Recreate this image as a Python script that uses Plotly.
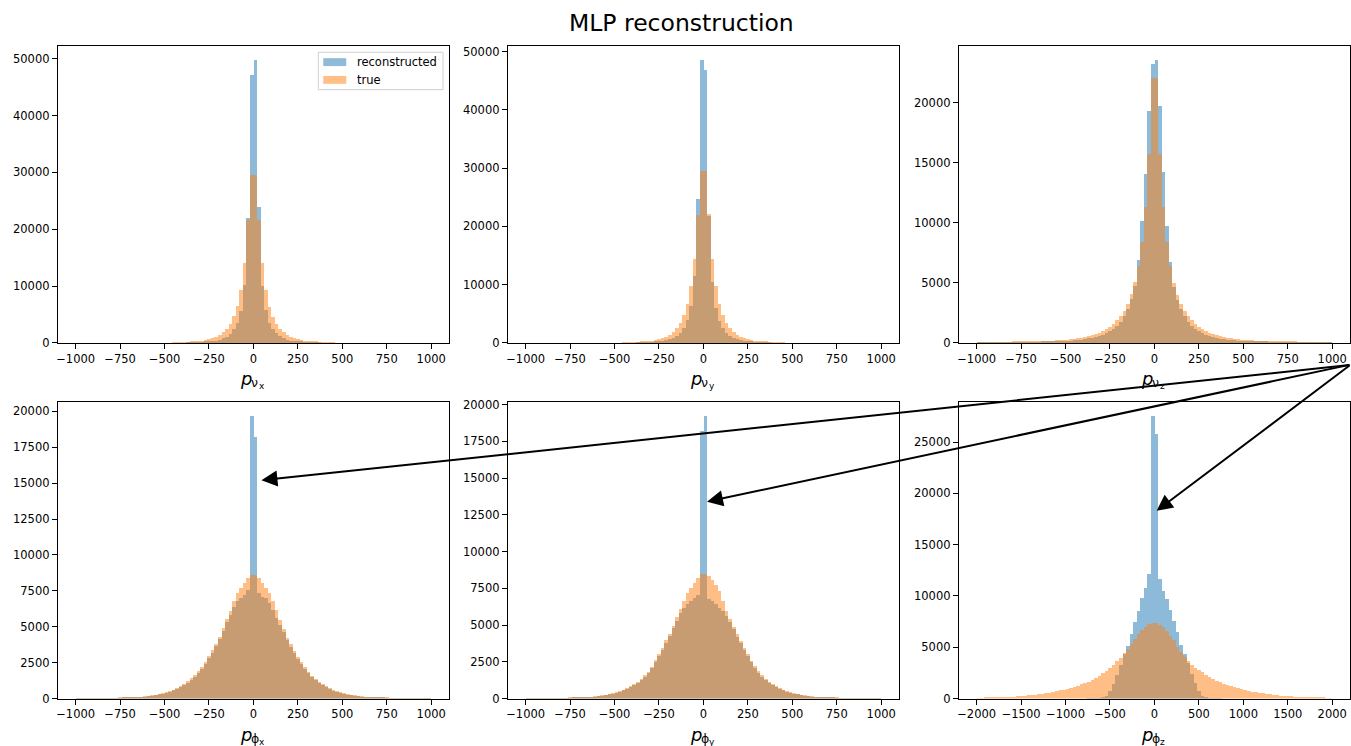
import numpy as np
import plotly.graph_objects as go

W, H = 1351, 746

# ---------------- bins ----------------
bin_w_small = 20     # 100 bins on [-1000, 1000]
bin_w_large = 40     # 100 bins on [-2000, 2000]
centers_small = np.arange(-990, 1000, bin_w_small)
centers_large = np.arange(-1980, 2000, bin_w_large)

# ---------------- data (counts), "neg" lists go outward from 0 to the left ----------------
# p_nu_x
reco_nux_neg = [47100, 21900, 10200, 5500, 3400, 2300, 1550, 1050, 720, 500,
                350, 240, 170, 120, 85, 60, 42, 30, 21, 0,
                0, 0, 0, 0, 0, 0, 0, 0, 0, 0,
                0, 0, 0, 0, 0, 0, 0, 0, 0, 0,
                0, 0, 0, 0, 0, 0, 0, 0, 0, 0]
reco_nux_pos = [49700, 23800, 10000, 5700, 3500, 2300, 1600, 1100, 750, 520,
                360, 250, 175, 120, 85, 60, 42, 30, 21, 0,
                0, 0, 0, 0, 0, 0, 0, 0, 0, 0,
                0, 0, 0, 0, 0, 0, 0, 0, 0, 0,
                0, 0, 0, 0, 0, 0, 0, 0, 0, 0]
true_nux_neg = [29500, 21500, 14000, 9300, 6400, 4600, 3300, 2400, 1800, 1350,
                1000, 750, 560, 420, 310, 230, 170, 125, 90, 65,
                48, 35, 26, 0, 0, 0, 0, 0, 0, 0,
                0, 0, 0, 0, 0, 0, 0, 0, 0, 0,
                0, 0, 0, 0, 0, 0, 0, 0, 0, 0]
true_nux_pos = [29500, 21500, 14000, 9300, 6300, 4500, 3250, 2380, 1780, 1330,
                990, 740, 550, 410, 305, 225, 165, 122, 88, 64,
                47, 34, 25, 0, 0, 0, 0, 0, 0, 0,
                0, 0, 0, 0, 0, 0, 0, 0, 0, 0,
                0, 0, 0, 0, 0, 0, 0, 0, 0, 0]

# p_nu_y
reco_nuy_neg = [48500, 24600, 11500, 6300, 3800, 2500, 1700, 1150, 800, 550,
                380, 260, 180, 125, 88, 62, 44, 31, 22, 0,
                0, 0, 0, 0, 0, 0, 0, 0, 0, 0,
                0, 0, 0, 0, 0, 0, 0, 0, 0, 0,
                0, 0, 0, 0, 0, 0, 0, 0, 0, 0]
reco_nuy_pos = [46800, 21800, 10400, 6000, 3700, 2450, 1680, 1140, 790, 545,
                375, 258, 178, 124, 87, 61, 43, 30, 21, 0,
                0, 0, 0, 0, 0, 0, 0, 0, 0, 0,
                0, 0, 0, 0, 0, 0, 0, 0, 0, 0,
                0, 0, 0, 0, 0, 0, 0, 0, 0, 0]
true_nuy_neg = [29400, 21900, 14400, 9700, 6650, 4750, 3420, 2480, 1830, 1370,
                1010, 760, 565, 425, 315, 232, 172, 126, 92, 67,
                49, 36, 26, 0, 0, 0, 0, 0, 0, 0,
                0, 0, 0, 0, 0, 0, 0, 0, 0, 0,
                0, 0, 0, 0, 0, 0, 0, 0, 0, 0]
true_nuy_pos = [29400, 22000, 14400, 9700, 6600, 4700, 3400, 2500, 1850, 1380,
                1020, 770, 570, 430, 320, 235, 175, 128, 93, 68,
                50, 36, 27, 0, 0, 0, 0, 0, 0, 0,
                0, 0, 0, 0, 0, 0, 0, 0, 0, 0,
                0, 0, 0, 0, 0, 0, 0, 0, 0, 0]

# p_nu_z
reco_nuz_neg = [23150, 19300, 14050, 10150, 6850, 4700, 3600, 2800, 2200, 1750,
                1400, 1150, 950, 790, 660, 560, 470, 400, 340, 290,
                250, 215, 185, 160, 140, 120, 104, 90, 78, 68,
                59, 51, 44, 38, 33, 29, 25, 22, 19, 16,
                14, 12, 10, 9, 8, 7, 6, 5, 4, 4]
reco_nuz_pos = [23500, 19700, 14200, 9700, 6700, 4650, 3550, 2780, 2180, 1740,
                1390, 1140, 940, 785, 655, 555, 468, 398, 338, 288,
                248, 213, 184, 159, 138, 119, 103, 89, 77, 67,
                58, 50, 43, 37, 32, 28, 24, 21, 18, 16,
                14, 12, 10, 9, 8, 7, 6, 5, 4, 3]
true_nuz_neg = [22050, 15700, 11300, 8400, 6400, 5000, 4000, 3250, 2650, 2200,
                1850, 1550, 1300, 1100, 950, 820, 710, 620, 540, 470,
                410, 360, 320, 285, 255, 228, 204, 183, 164, 147,
                132, 118, 106, 95, 85, 76, 68, 61, 55, 49,
                44, 40, 36, 32, 29, 26, 23, 21, 19, 17]
true_nuz_pos = [22050, 15700, 11300, 8400, 6350, 4950, 3980, 3230, 2640, 2190,
                1840, 1540, 1290, 1095, 945, 815, 705, 615, 535, 468,
                408, 358, 318, 283, 253, 226, 202, 181, 162, 146,
                131, 117, 105, 94, 84, 75, 67, 60, 54, 48,
                43, 39, 35, 31, 28, 25, 22, 20, 18, 16]

# p_phi_x
reco_phx_neg = [19660, 7560, 7200, 7000, 6760, 6400, 5800, 5300, 4700, 4150,
                3650, 3200, 2800, 2400, 2080, 1780, 1520, 1300, 1100, 930,
                790, 670, 565, 480, 405, 340, 285, 240, 200, 168,
                140, 117, 98, 82, 68, 57, 47, 39, 32, 26,
                21, 17, 14, 11, 9, 7, 5, 4, 3, 2]
reco_phx_pos = [18210, 7330, 7100, 6990, 6640, 6190, 5600, 5150, 4600, 4100,
                3600, 3150, 2750, 2380, 2050, 1760, 1500, 1280, 1090, 920,
                785, 665, 560, 476, 402, 338, 283, 238, 199, 167,
                139, 116, 97, 81, 67, 56, 46, 38, 31, 25,
                20, 16, 13, 11, 9, 7, 5, 4, 3, 2]
true_phx_neg = [8590, 8380, 8030, 7680, 7330, 6800, 6100, 5550, 4900, 4300,
                3800, 3350, 2950, 2550, 2200, 1900, 1620, 1400, 1200, 1000,
                850, 720, 610, 520, 440, 370, 310, 260, 220, 185,
                155, 130, 110, 92, 78, 65, 55, 46, 38, 32,
                26, 21, 17, 14, 11, 9, 7, 5, 4, 3]
true_phx_pos = [8590, 8360, 8020, 7670, 7330, 6760, 6150, 5500, 4850, 4250,
                3780, 3320, 2910, 2520, 2180, 1880, 1600, 1380, 1180, 990,
                845, 715, 605, 515, 436, 367, 308, 258, 218, 183,
                153, 129, 108, 91, 77, 64, 54, 45, 37, 31,
                25, 20, 16, 13, 11, 9, 7, 5, 4, 3]

# p_phi_y
reco_phy_neg = [18190, 7080, 6860, 6640, 6410, 6190, 5800, 5300, 4800, 4250,
                3800, 3320, 2900, 2500, 2100, 1770, 1500, 1280, 1090, 920,
                780, 660, 555, 470, 395, 335, 280, 236, 198, 166,
                139, 116, 97, 81, 67, 56, 46, 38, 31, 26,
                21, 17, 14, 11, 9, 7, 5, 4, 3, 2]
reco_phy_pos = [19220, 6750, 6640, 6460, 6190, 5970, 5630, 5180, 4700, 4200,
                3750, 3300, 2880, 2480, 2100, 1770, 1500, 1280, 1090, 920,
                780, 660, 555, 470, 395, 335, 280, 236, 198, 166,
                139, 116, 97, 81, 67, 56, 46, 38, 31, 26,
                21, 17, 14, 11, 9, 7, 5, 4, 3, 2]
true_phy_neg = [8470, 8200, 7870, 7530, 7200, 6640, 6080, 5520, 4960, 4400,
                3960, 3460, 3020, 2610, 2170, 1830, 1580, 1350, 1150, 980,
                830, 700, 590, 500, 425, 360, 305, 258, 218, 184,
                155, 130, 110, 92, 77, 64, 54, 45, 38, 31,
                26, 21, 17, 14, 11, 9, 7, 5, 4, 3]
true_phy_pos = [8470, 8310, 8090, 7750, 7300, 6640, 5970, 5400, 4900, 4380,
                3940, 3450, 3000, 2590, 2200, 1860, 1590, 1360, 1160, 985,
                835, 705, 595, 505, 428, 362, 307, 260, 220, 186,
                156, 131, 111, 93, 78, 65, 55, 46, 38, 32,
                26, 21, 17, 14, 11, 9, 7, 5, 4, 3]

# p_phi_z (bins of 40)
reco_phz_neg = [27520, 12130, 10780, 9760, 8540, 7490, 6300, 5100, 4300, 3300,
                2300, 1400, 700, 250, 80, 25, 8, 3, 1, 0,
                0, 0, 0, 0, 0, 0, 0, 0, 0, 0,
                0, 0, 0, 0, 0, 0, 0, 0, 0, 0,
                0, 0, 0, 0, 0, 0, 0, 0, 0, 0]
reco_phz_pos = [25760, 11680, 10460, 9700, 8600, 7580, 6460, 5180, 4300, 3500,
                2400, 1500, 700, 280, 90, 30, 10, 3, 1, 0,
                0, 0, 0, 0, 0, 0, 0, 0, 0, 0,
                0, 0, 0, 0, 0, 0, 0, 0, 0, 0,
                0, 0, 0, 0, 0, 0, 0, 0, 0, 0]
true_phz_neg = [7330, 7250, 7000, 6700, 6300, 5850, 5350, 4850, 4400, 4000,
                3650, 3300, 3000, 2700, 2450, 2200, 2000, 1800, 1650, 1500,
                1380, 1260, 1150, 1050, 960, 870, 790, 710, 640, 580,
                520, 470, 420, 380, 340, 300, 270, 240, 210, 185,
                165, 145, 125, 110, 95, 80, 70, 60, 50, 40]
true_phz_pos = [7330, 7200, 6940, 6620, 6140, 5660, 5020, 4500, 4050, 3680,
                3300, 3000, 2780, 2550, 2320, 2100, 1900, 1720, 1570, 1430,
                1300, 1190, 1090, 1000, 910, 830, 755, 685, 620, 560,
                505, 455, 410, 370, 330, 295, 265, 235, 210, 185,
                165, 145, 128, 112, 97, 84, 72, 62, 53, 45]

# ---------------- labels / ticks ----------------
series_names = ["reconstructed", "true"]
# axis labels p_{particle_{component}}
label_main = ["p", "p", "p", "p", "p", "p"]
label_sub = ["ν", "ν", "ν", "ϕ", "ϕ", "ϕ"]
label_subsub = ["x", "y", "z", "x", "y", "z"]
xtick_small = [-1000, -750, -500, -250, 0, 250, 500, 750, 1000]
xtick_small_text = ["−1000", "−750", "−500", "−250", "0", "250", "500", "750", "1000"]
xtick_large = [-2000, -1500, -1000, -500, 0, 500, 1000, 1500, 2000]
xtick_large_text = ["−2000", "−1500", "−1000", "−500", "0", "500", "1000", "1500", "2000"]
ytick_sets = [
    [0, 10000, 20000, 30000, 40000, 50000],
    [0, 10000, 20000, 30000, 40000, 50000],
    [0, 5000, 10000, 15000, 20000],
    [0, 2500, 5000, 7500, 10000, 12500, 15000, 17500, 20000],
    [0, 2500, 5000, 7500, 10000, 12500, 15000, 17500, 20000],
    [0, 5000, 10000, 15000, 20000, 25000],
]

BLUE = "#1f77b4"
ORANGE = "#ff7f0e"
FONT = "DejaVu Sans"

panels = [
    (centers_small, bin_w_small, reco_nux_neg, reco_nux_pos, true_nux_neg, true_nux_pos, 1000),
    (centers_small, bin_w_small, reco_nuy_neg, reco_nuy_pos, true_nuy_neg, true_nuy_pos, 1000),
    (centers_small, bin_w_small, reco_nuz_neg, reco_nuz_pos, true_nuz_neg, true_nuz_pos, 1000),
    (centers_small, bin_w_small, reco_phx_neg, reco_phx_pos, true_phx_neg, true_phx_pos, 1000),
    (centers_small, bin_w_small, reco_phy_neg, reco_phy_pos, true_phy_neg, true_phy_pos, 1000),
    (centers_large, bin_w_large, reco_phz_neg, reco_phz_pos, true_phz_neg, true_phz_pos, 2000),
]

# panel frames in pixels
col_px = [(56, 448), (507, 899), (959, 1351)]
row_px = [(43, 344), (404, 705)]


def fx(px):
    return px / W


def fy(py):
    return 1 - py / H


fig = go.Figure()
layout = dict(
    width=W, height=H, margin=dict(l=0, r=0, t=0, b=0),
    paper_bgcolor="white", plot_bgcolor="white",
    barmode="overlay", bargap=0, showlegend=False,
    font=dict(family=FONT, color="black", size=12),
)

annotations = []
for i, (centers, bw, rn, rp, tn, tp, lim) in enumerate(panels):
    k = i + 1
    sfx = "" if k == 1 else str(k)
    reco = rn[::-1] + rp
    true = tn[::-1] + tp
    fig.add_trace(go.Bar(x=centers, y=reco, width=bw, name=series_names[0],
                         marker=dict(color=BLUE, line=dict(width=0)), opacity=0.5,
                         xaxis="x" + sfx, yaxis="y" + sfx, hoverinfo="skip"))
    fig.add_trace(go.Bar(x=centers, y=true, width=bw, name=series_names[1],
                         marker=dict(color=ORANGE, line=dict(width=0)), opacity=0.5,
                         xaxis="x" + sfx, yaxis="y" + sfx, hoverinfo="skip"))
    c0, c1 = col_px[i % 3]
    r0, r1 = row_px[i // 3]
    ymax = 1.05 * max(max(reco), max(true))
    tv = xtick_small if lim == 1000 else xtick_large
    tt = xtick_small_text if lim == 1000 else xtick_large_text
    layout["xaxis" + sfx] = dict(
        domain=[fx(c0), fx(c1)], anchor="y" + sfx, range=[-1.1 * lim, 1.1 * lim],
        tickmode="array", tickvals=tv, ticktext=tt, ticks="outside", ticklen=5,
        tickwidth=1, tickcolor="black", showline=True, mirror=True, linecolor="black",
        linewidth=1, showgrid=False, zeroline=False,
        tickfont=dict(size=11.5, color="black", family=FONT),
    )
    layout["yaxis" + sfx] = dict(
        domain=[fy(r1), fy(r0)], anchor="x" + sfx, range=[0, ymax],
        tickmode="array", tickvals=ytick_sets[i], ticktext=[str(v) for v in ytick_sets[i]],
        ticks="outside", ticklen=5, tickwidth=1, tickcolor="black",
        showline=True, mirror=True, linecolor="black", linewidth=1,
        showgrid=False, zeroline=False,
        tickfont=dict(size=11.5, color="black", family=FONT),
    )
    # axis label  p_{nu_x} built from three text pieces (mathtext-like)
    cx = (c0 + c1) / 2
    annotations.append(dict(text="<i>%s</i>" % label_main[i], x=fx(cx - 15), y=fy(r1 + 36),
                            xref="paper", yref="paper", showarrow=False,
                            xanchor="left", yanchor="middle",
                            font=dict(size=18, family=FONT, color="black")))
    annotations.append(dict(text=label_sub[i], x=fx(cx - 4), y=fy(r1 + 40),
                            xref="paper", yref="paper", showarrow=False,
                            xanchor="left", yanchor="middle",
                            font=dict(size=12.5, family=FONT, color="black")))
    annotations.append(dict(text=label_subsub[i], x=fx(cx + 3.5), y=fy(r1 + 44),
                            xref="paper", yref="paper", showarrow=False,
                            xanchor="left", yanchor="middle",
                            font=dict(size=9, family=FONT, color="black")))

fig.update_layout(**layout)

# ---- title ----
annotations.append(dict(text="MLP reconstruction", x=fx(681), y=fy(19), xref="paper", yref="paper",
                        showarrow=False, xanchor="center", yanchor="middle",
                        font=dict(size=23.5, family=FONT, color="black")))

# ---- legend (matplotlib style, inside first panel) ----
shapes = [
    dict(type="rect", xref="paper", yref="paper", x0=fx(317), x1=fx(442), y0=fy(87), y1=fy(49),
         line=dict(color="#d0d0d0", width=1), fillcolor="rgba(255,255,255,0.8)", layer="above"),
    dict(type="rect", xref="paper", yref="paper", x0=fx(322), x1=fx(345), y0=fy(63), y1=fy(55),
         line=dict(width=0), fillcolor="rgba(31,119,180,0.5)", layer="above"),
    dict(type="rect", xref="paper", yref="paper", x0=fx(322), x1=fx(345), y0=fy(81), y1=fy(73),
         line=dict(width=0), fillcolor="rgba(255,127,14,0.5)", layer="above"),
]
for name, yc in zip(series_names, [59, 77]):
    annotations.append(dict(text=name, x=fx(354), y=fy(yc), xref="paper", yref="paper",
                            showarrow=False, xanchor="left", yanchor="middle",
                            font=dict(size=11.5, family=FONT, color="black")))

# ---- arrows pointing at the reconstruction spikes ----
arrow_targets = [("x4", "y4", 45, 15200), ("x5", "y5", 20, 13400), ("x6", "y6", 25, 18300)]
tail_px = (1370, 368)
for (xr, yr, xv, yv) in arrow_targets:
    i = int(xr[1:]) - 1
    c0, c1 = col_px[i % 3]
    r0, r1 = row_px[i // 3]
    lim = panels[i][6]
    ymax = 1.05 * max(max(panels[i][2] + panels[i][3]), max(panels[i][4] + panels[i][5]))
    hx = c0 + (xv + 1.1 * lim) / (2.2 * lim) * (c1 - c0)
    hy = r1 - yv / ymax * (r1 - r0)
    annotations.append(dict(x=xv, y=yv, xref=xr, yref=yr, text="", showarrow=True,
                            ax=tail_px[0] - hx, ay=tail_px[1] - hy,
                            arrowhead=2, arrowsize=1.6, arrowwidth=2, arrowcolor="black",
                            standoff=0))

fig.update_layout(annotations=annotations, shapes=shapes)
fig.write_html("out.html")
